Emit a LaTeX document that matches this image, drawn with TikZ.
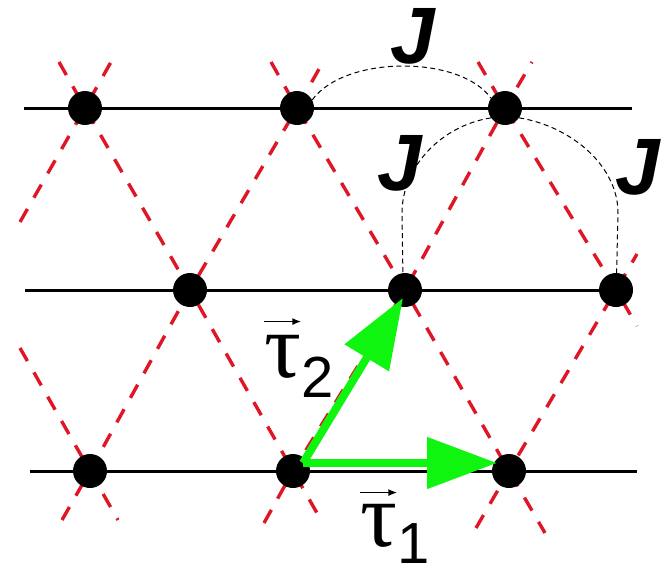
\documentclass[tikz,border=0pt]{standalone}
\usepackage{fontspec}
\usetikzlibrary{arrows.meta,calc}
\newfontfamily\jfont{Liberation Sans}
\newfontfamily\taufont{Liberation Serif}
\definecolor{latred}{RGB}{222,22,38}
\definecolor{vecgreen}{RGB}{15,245,15}
\pgfdeclarelayer{background}
\pgfsetlayers{background,main}
\begin{document}
\begin{tikzpicture}[x=1pt,y=-1pt,
  site/.style={circle,fill=black,inner sep=0pt,minimum size=34pt},
  chain/.style={line width=3pt,black},
  latline/.style={latred,line width=3.4pt,dash pattern=on 15pt off 13pt},
  bond/.style={black,line width=1pt,dash pattern=on 5pt off 3.5pt},
  vecarrow/.style={vecgreen,line width=8pt,-{Triangle[length=70pt,width=50pt]}},
  jlabel/.style={inner sep=0pt,font=\jfont\bfseries\itshape\fontsize{80}{84}\selectfont},
  taulabel/.style={inner sep=0pt,anchor=base west,font=\taufont\fontsize{92}{96}\selectfont},
  sublabel/.style={inner sep=0pt,anchor=base west,font=\jfont\fontsize{58}{60}\selectfont},
  overarrow/.style={line width=1.6pt,-{Latex[length=9pt,width=7pt]}}
]
\useasboundingbox (0,0) rectangle (661,570);

% lattice sites
\node[site] (t1) at (85,108) {};
\node[site] (t2) at (297,108) {};
\node[site] (t3) at (505,108) {};
\node[site] (m1) at (190,290) {};
\node[site] (m2) at (405,290) {};
\node[site] (m3) at (616,290) {};
\node[site] (b1) at (90,471) {};
\node[site] (b2) at (293,471) {};
\node[site] (b3) at (509,471) {};

% chain ends
\coordinate (tl) at (24,108);  \coordinate (tr) at (632,108);
\coordinate (ml) at (25,290);  \coordinate (mr) at (632,290);
\coordinate (bl) at (30,471);  \coordinate (br) at (637,471);

\begin{pgfonlayer}{background}
  % horizontal chains
  \draw[chain] (tl) -- (tr);
  \draw[chain] (ml) -- (mr);
  \draw[chain] (bl) -- (br);
  % lattice lines (up-right)
  \draw[latline] ($(t1.center)+(-65,114)$) -- (t1.center) -- ($(t1.center)+(26,-46)$);
  \draw[latline] ($(b1.center)+(-28,49)$) -- (b1.center) -- (m1.center) -- (t2.center) -- ($(t2.center)+(26,-46)$);
  \draw[latline] ($(b2.center)+(-29,52)$) -- (b2.center) -- (m2.center) -- (t3.center) -- ($(t3.center)+(27,-46)$);
  \draw[latline] ($(b3.center)+(-33,57)$) -- (b3.center) -- (m3.center) -- ($(m3.center)+(21,-36)$);
  % lattice lines (down-right)
  \draw[latline] ($(b1.center)+(-70,-123)$) -- (b1.center) -- ($(b1.center)+(28,49)$);
  \draw[latline] ($(t1.center)+(-26,-46)$) -- (t1.center) -- (m1.center) -- (b2.center) -- ($(b2.center)+(28,49)$);
  \draw[latline] ($(t2.center)+(-26,-46)$) -- (t2.center) -- (m2.center) -- (b3.center) -- ($(b3.center)+(36,62)$);
  \draw[latline] ($(t3.center)+(-27,-46)$) -- (t3.center) -- (m3.center) -- ($(m3.center)+(21,36)$);
\end{pgfonlayer}

% exchange bonds
\draw[bond] (t2.28) .. controls (345,55) and (460,55) .. (t3.145);
\draw[bond] (t3.215) .. controls (440,126) and (402,168) .. (402,213) -- (m2.97);
\draw[bond] (t3.325) .. controls (570,126) and (618,165) .. (618,213) -- (m3.88);

% J labels
\node[jlabel] (j1) at (413,36) {J};
\node[jlabel] (j2) at (400,163) {J};
\node[jlabel] (j3) at (638,167) {J};

% primitive vectors
\draw[vecarrow] ([shift={(10,-8)}]b2.center) -- ([shift={(-12,-8)}]b3.center);
\draw[vecarrow] ([shift={(10,-8)}]b2.center) -- ([shift={(-2,8)}]m2.center);

% vector labels
\node[taulabel] (tau2) at (264,377) {τ};
\node[sublabel] (sub2) at (301,397) {2};
\draw[overarrow] ([yshift=13pt]tau2.north west) -- ([yshift=13pt]tau2.north east);
\node[taulabel] (tau1) at (360,546) {τ};
\node[sublabel] (sub1) at (397,563) {1};
\draw[overarrow] ([yshift=11pt]tau1.north west) -- ([yshift=11pt]tau1.north east);
\end{tikzpicture}
\end{document}
